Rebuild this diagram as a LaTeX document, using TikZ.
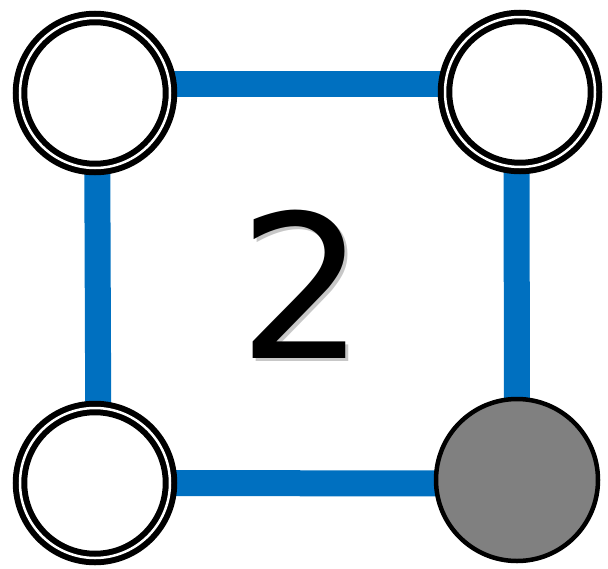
\documentclass[tikz,border=0pt]{standalone}
\usepackage{fontspec}
\setmainfont{DejaVu Sans}
\usetikzlibrary{backgrounds}
\definecolor{linkblue}{HTML}{0070C0}
\definecolor{stonegray}{HTML}{808080}
\begin{document}
\begin{tikzpicture}[x=1pt,y=-1pt,
  emptystone/.style={circle,draw=black,fill=white,line width=6pt,double=white,double distance=2.5pt,minimum size=150pt,inner sep=0pt},
  fullstone/.style={circle,draw=black,fill=stonegray,line width=4.5pt,minimum size=162pt,inner sep=0pt},
  link/.style={draw=linkblue,line width=26pt},
  bignum/.style={inner sep=0pt,anchor=base,font=\fontsize{200}{200}\selectfont}]
\useasboundingbox (0,0) rectangle (608,568);
\node[emptystone] (tl) at (95,93) {};
\node[emptystone] (tr) at (520,92) {};
\node[emptystone] (bl) at (95,483) {};
\node[fullstone] (br) at (517,480) {};
\begin{scope}[on background layer]
\draw[link] ([yshift=9pt]tl.center) -- ([yshift=8pt]tr.center);
\draw[link] ([xshift=2pt]tl.center) -- ([xshift=3.5pt]bl.center);
\draw[link] ([xshift=-3.5pt]tr.center) -- (br.center);
\draw[link] (bl.center) -- ([yshift=-3.5pt]br.center);
\end{scope}
\node[bignum,text=black,opacity=0.22] (numshadow) at (305.5,361) {2};
\node[bignum] (num) at (302.5,358) {2};
\end{tikzpicture}
\end{document}
